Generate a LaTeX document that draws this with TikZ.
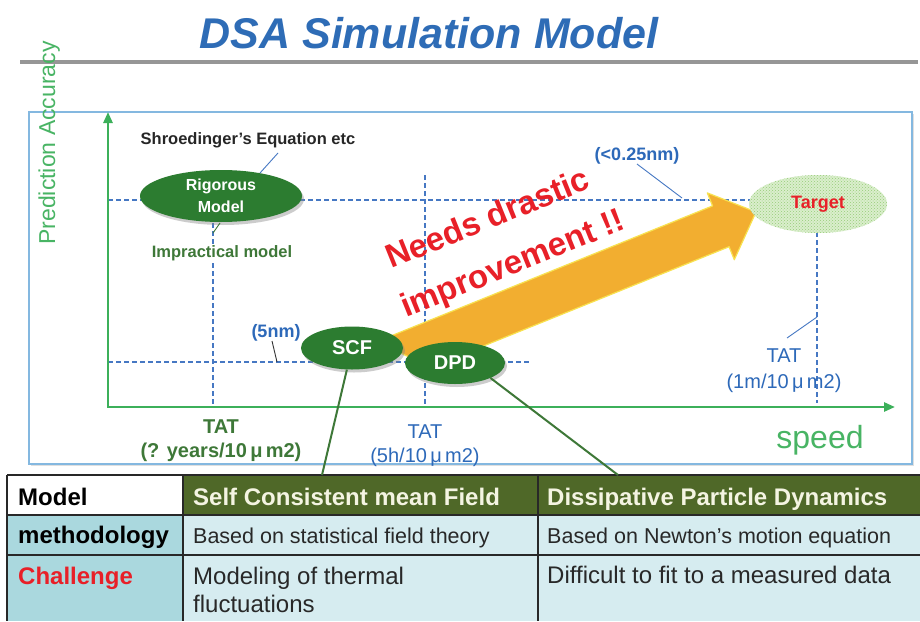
\documentclass[tikz,border=0pt]{standalone}
\usepackage{fontspec}
\setmainfont{Liberation Sans}
\usetikzlibrary{shapes.geometric,shadows,patterns,arrows.meta}

\definecolor{titleblue}{RGB}{46,108,182}
\definecolor{rulegray}{RGB}{150,150,150}
\definecolor{frameblue}{RGB}{132,184,224}
\definecolor{axisgreen}{RGB}{60,176,90}
\definecolor{labgreen}{RGB}{72,180,100}
\definecolor{ovalgreen}{RGB}{44,124,48}
\definecolor{darkgreen}{RGB}{62,120,56}
\definecolor{guideblue}{RGB}{70,120,195}
\definecolor{txtblue}{RGB}{45,105,185}
\definecolor{arroworange}{RGB}{242,174,48}
\definecolor{arrowedge}{RGB}{248,226,80}
\definecolor{alertred}{RGB}{232,32,40}
\definecolor{targetfill}{RGB}{218,238,204}
\definecolor{targetdot}{RGB}{150,205,120}
\definecolor{headgreen}{RGB}{79,104,40}
\definecolor{headtext}{RGB}{244,244,226}
\definecolor{keycell}{RGB}{170,216,222}
\definecolor{bodycell}{RGB}{214,236,240}
\definecolor{tabline}{RGB}{40,40,40}
\definecolor{tabtext}{RGB}{40,40,40}

\newcommand\pxs[2]{\fontsize{#1}{#2}\selectfont}

\tikzset{
  guide/.style={guideblue, line width=1.5pt, dash pattern=on 5pt off 3pt},
  axisline/.style={axisgreen, line width=2.5pt},
  oval/.style={ellipse, fill=ovalgreen, text=white, inner sep=0pt,
    font=\pxs{20}{22}\bfseries,
    drop shadow={opacity=0.4, shadow xshift=2pt, shadow yshift=-3pt}},
  leader/.style={line width=0.9pt},
  needs/.style={rotate=22, anchor=base west, inner sep=0pt,
    font=\pxs{33}{36}\bfseries, text=alertred},
  lbl/.style={anchor=base, inner sep=0pt},
  cell/.style={anchor=base west, inner sep=0pt, text=tabtext},
  link/.style={darkgreen, line width=2pt},
  grid/.style={tabline, line width=1.4pt},
}

\begin{document}
\begin{tikzpicture}[x=1pt, y=-1pt]
\useasboundingbox (0,0) rectangle (920,621);
\fill[white] (0,0) rectangle (920,621);

% title and rule
\node[lbl, font=\pxs{43}{50}\bfseries\itshape, text=titleblue] (title) at (429,48) {DSA Simulation Model};
\coordinate (ruleL) at (20,62);
\coordinate (ruleR) at (918,62);
\draw[rulegray, line width=4pt] (ruleL) -- (ruleR);

% plot frame
\node[draw=frameblue, fill=white, line width=2pt, anchor=north west,
      minimum width=883pt, minimum height=352pt, inner sep=0pt,
      drop shadow={opacity=0.25, shadow xshift=1.5pt, shadow yshift=-2pt}] (frame) at (28,111) {};

% vertical axis label
\node[lbl, rotate=90, font=\pxs{23}{26}, text=labgreen] (ylab) at (55,143) {Prediction Accuracy};

% dashed guide lines
\coordinate (gA1) at (108,200);  \coordinate (gA2) at (752,200);
\coordinate (gB1) at (108,362);  \coordinate (gB2) at (530,362);
\coordinate (gC1) at (213,175);  \coordinate (gC2) at (213,407);
\coordinate (gD1) at (425,175);  \coordinate (gD2) at (425,407);
\coordinate (gE1) at (817,232);  \coordinate (gE2) at (817,403);
\draw[guide] (gA1) -- (gA2);
\draw[guide] (gB1) -- (gB2);
\draw[guide] (gC1) -- (gC2);
\draw[guide] (gD1) -- (gD2);
\draw[guide] (gE1) -- (gE2);

% axes
\coordinate (O) at (108,407);
\coordinate (ytip) at (108,112);
\coordinate (xtip) at (895,407);
\draw[axisline, {Triangle[length=11pt,width=9pt]}-{Triangle[length=11pt,width=9pt]}] (ytip) -- (O) -- (xtip);

% big arrow
\fill[arroworange, draw=arrowedge, line width=1.2pt, line join=round]
  (377,341.6) -- (712.6,205.9) -- (707.3,192.9) -- (756,212)
  -- (734.3,259.7) -- (729.1,246.7) -- (430.5,367.4) -- cycle;

% models
\node[oval, minimum width=162pt, minimum height=52pt, align=center,
      font=\pxs{16}{22}\bfseries] (rig) at (221,196) {Rigorous\\Model};
\node[oval, minimum width=102pt, minimum height=43pt] (scf) at (352,348) {SCF};
\node[oval, minimum width=100pt, minimum height=42pt] (dpd) at (455,363) {DPD};
\node[ellipse, fill=targetfill, postaction={pattern=crosshatch dots, pattern color=targetdot},
      minimum width=138pt, minimum height=58pt, inner sep=0pt,
      text=alertred, font=\pxs{18}{20}\bfseries] (tgt) at (818,204) {Target};

% headline across the arrow
\node[needs] (need1) at (391,269) {Needs drastic};
\node[needs] (need2) at (406,318) {improvement !!};

% annotations
\node[lbl, font=\pxs{16.5}{18}\bfseries, text=black!85] (shro) at (248,144) {Shroedinger's Equation etc};
\node[lbl, font=\pxs{16.5}{18}\bfseries, text=darkgreen, fill=white, inner sep=1pt] (impr) at (222,257) {Impractical model};
\node[lbl, font=\pxs{18}{20}\bfseries, text=txtblue] (acc1) at (637,160) {(<0.25nm)};
\node[lbl, font=\pxs{18}{20}\bfseries, text=txtblue] (acc2) at (276,337) {(5nm)};

\coordinate (shroA) at (260,173); \coordinate (shroB) at (278,153);
\coordinate (imprA) at (213,233); \coordinate (imprB) at (220,223);
\coordinate (accA) at (637,164);  \coordinate (accB) at (682,198);
\coordinate (fiveA) at (272,341); \coordinate (fiveB) at (277,362);
\coordinate (tatA) at (787,338);  \coordinate (tatB) at (817,317);
\draw[leader, guideblue] (shroA) -- (shroB);
\draw[leader, darkgreen] (imprA) -- (imprB);
\draw[leader, guideblue] (accA) -- (accB);
\draw[leader, black!80] (fiveA) -- (fiveB);
\draw[leader, guideblue] (tatA) -- (tatB);

% turnaround times
\node[lbl, font=\pxs{20}{22}\bfseries, text=darkgreen] (tatyA) at (221,433) {TAT};
\node[lbl, font=\pxs{20}{22}\bfseries, text=darkgreen] (tatyB) at (221,457) {(? years/10\,μ\,m2)};
\node[lbl, font=\pxs{20}{22}, text=txtblue] (tathA) at (425,438) {TAT};
\node[lbl, font=\pxs{20}{22}, text=txtblue] (tathB) at (425,462) {(5h/10\,μ\,m2)};
\node[lbl, font=\pxs{20}{22}, text=txtblue] (tatmA) at (784,362) {TAT};
\node[lbl, font=\pxs{20}{22}, text=txtblue] (tatmB) at (784,388) {(1m/10\,μ\,m2)};

\node[lbl, font=\pxs{32}{36}, text=labgreen] (speed) at (820,448) {speed};

% comparison table
\fill[white]    (7,475)   rectangle (183,515);
\fill[headgreen](183,475) rectangle (920,515);
\fill[keycell]  (7,515)   rectangle (183,621);
\fill[bodycell] (183,515) rectangle (920,621);
\draw[grid] (7,475) -- (920,475);
\draw[grid] (7,515) -- (920,515);
\draw[grid] (7,555) -- (920,555);
\draw[grid] (7,475) -- (7,621);
\draw[grid] (183,475) -- (183,621);
\draw[grid] (538,475) -- (538,621);

\node[cell, font=\pxs{24}{28}\bfseries, text=black] (hModel) at (18,505) {Model};
\node[cell, font=\pxs{24}{28}\bfseries, text=headtext] (hSCF) at (193,505) {Self Consistent mean Field};
\node[cell, font=\pxs{24}{28}\bfseries, text=headtext] (hDPD) at (547,505) {Dissipative Particle Dynamics};
\node[cell, font=\pxs{24}{28}\bfseries, text=black] (kMeth) at (18,543) {methodology};
\node[cell, font=\pxs{21.5}{26}] (mSCF) at (193,543) {Based on statistical field theory};
\node[cell, font=\pxs{21.5}{26}] (mDPD) at (547,543) {Based on Newton's motion equation};
\node[cell, font=\pxs{24}{28}\bfseries, text=alertred] (kChal) at (18,584) {Challenge};
\node[cell, font=\pxs{24}{28}] (cSCF1) at (193,584) {Modeling of thermal};
\node[cell, font=\pxs{24}{28}] (cSCF2) at (193,612) {fluctuations};
\node[cell, font=\pxs{24}{28}] (cDPD) at (547,583) {Difficult to fit to a measured data};

% links from the models to their columns
\coordinate (scfCol) at (322,475);
\coordinate (dpdCol) at (618,475);
\draw[link] (scf) -- (scfCol);
\draw[link] (dpd.south east) -- (dpdCol);
\end{tikzpicture}
\end{document}
